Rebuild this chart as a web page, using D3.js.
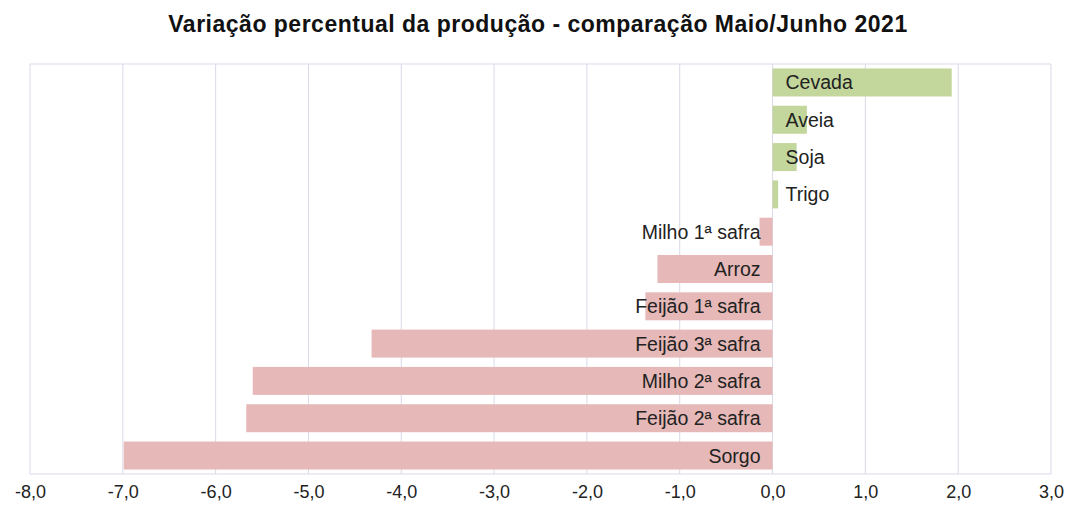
<!DOCTYPE html>
<html>
<head>
<meta charset="utf-8">
<script src="https://cdn.jsdelivr.net/npm/d3@7"></script>
<style>
  body { margin: 0; background: #fff; }
  text { font-family: "Liberation Sans", Arial, sans-serif; }
</style>
</head>
<body>
<svg width="1067" height="510"></svg>
<script>
// ~~~~~~ DATA ~~~~~~
var culturas = ["Cevada", "Aveia", "Soja", "Trigo", "Milho 1ª safra", "Arroz",
                "Feijão 1ª safra", "Feijão 3ª safra", "Milho 2ª safra", "Feijão 2ª safra", "Sorgo"];
var variacao = [1.93, 0.37, 0.26, 0.06, -0.14, -1.24, -1.37, -4.32, -5.60, -5.67, -6.99];
var ticks = [-8, -7, -6, -5, -4, -3, -2, -1, 0, 1, 2, 3];

var svg = d3.select("svg"),
    margin = {top: 64, right: 16, bottom: 36, left: 30},
    width = +svg.attr("width") - margin.left - margin.right,
    height = +svg.attr("height") - margin.top - margin.bottom;

var g = svg.append("g")
    .attr("transform", "translate(" + margin.left + "," + margin.top + ")");

// ~~~~~~ SCALES ~~~~~~
var x = d3.scaleLinear().domain([-8, 3]).range([0, width]);
var y = d3.scaleBand().domain(culturas).range([0, height]).paddingInner(0.25).paddingOuter(0.12);

var fmt = function(d) { return d3.format(".1f")(d).replace(".", ",").replace("−", "-"); };

// title
svg.append("text")
   .attr("x", 538)
   .attr("y", 32)
   .attr("text-anchor", "middle")
   .style("font-size", "23px")
   .style("font-weight", "bold")
   .style("letter-spacing", "0.5px")
   .attr("fill", "#111")
   .text("Variação percentual da produção - comparação Maio/Junho 2021");

// gridlines
g.selectAll(".grid")
 .data(ticks)
 .enter()
 .append("line")
 .attr("class", "grid")
 .attr("x1", function(d) { return x(d); })
 .attr("x2", function(d) { return x(d); })
 .attr("y1", 0)
 .attr("y2", height)
 .attr("stroke", "#d9d9ea")
 .attr("stroke-width", 1);

g.append("line")
 .attr("x1", 0).attr("x2", width)
 .attr("y1", 0).attr("y2", 0)
 .attr("stroke", "#d9d9ea");
g.append("line")
 .attr("x1", 0).attr("x2", width)
 .attr("y1", height).attr("y2", height)
 .attr("stroke", "#d9d9ea");

// bars
g.selectAll(".bar")
 .data(culturas)
 .enter()
 .append("rect")
 .attr("class", "bar")
 .attr("x", function(d, i) { return x(Math.min(0, variacao[i])); })
 .attr("y", function(d) { return y(d); })
 .attr("width", function(d, i) { return Math.abs(x(variacao[i]) - x(0)); })
 .attr("height", y.bandwidth())
 .attr("fill", function(d, i) { return variacao[i] >= 0 ? "#c3d69b" : "#e6b9b8"; });

// labels
g.selectAll(".lbl")
 .data(culturas)
 .enter()
 .append("text")
 .attr("class", "lbl")
 .attr("x", function(d, i) { return variacao[i] >= 0 ? x(0) + 13 : x(0) - 12; })
 .attr("y", function(d) { return y(d) + y.bandwidth() / 2; })
 .attr("dy", "0.36em")
 .attr("text-anchor", function(d, i) { return variacao[i] >= 0 ? "start" : "end"; })
 .style("font-size", "19.5px")
 .attr("fill", "#222")
 .text(function(d) { return d; });

// x axis
var xAxis = g.append("g")
 .attr("transform", "translate(0," + height + ")")
 .call(d3.axisBottom(x).tickValues(ticks).tickFormat(fmt).tickSize(0).tickPadding(11));
xAxis.select(".domain").remove();
xAxis.selectAll("text")
 .style("font-family", "\"Liberation Sans\", Arial, sans-serif")
 .style("font-size", "18px")
 .attr("fill", "#222");
</script>
</body>
</html>
